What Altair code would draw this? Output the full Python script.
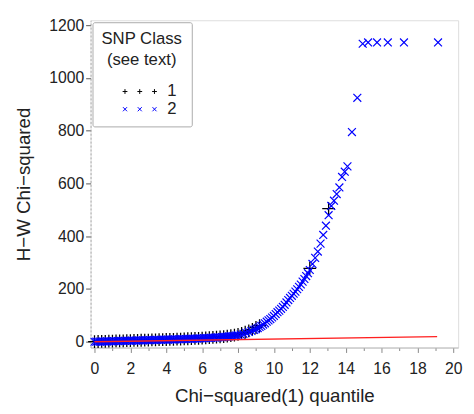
import altair as alt
import pandas as pd

# ---- data ----
blue_x = [0.0, 0.1, 0.2, 0.3, 0.4, 0.5, 0.6, 0.7, 0.8, 0.9,
          1.0, 1.1, 1.2, 1.3, 1.4, 1.5, 1.6, 1.7, 1.8, 1.9,
          2.0, 2.1, 2.2, 2.3, 2.4, 2.5, 2.6, 2.7, 2.8, 2.9,
          3.0, 3.1, 3.2, 3.3, 3.4, 3.5, 3.6, 3.7, 3.8, 3.9,
          4.0, 4.1, 4.2, 4.3, 4.4, 4.5, 4.6, 4.7, 4.8, 4.9,
          5.0, 5.1, 5.2, 5.3, 5.4, 5.5, 5.6, 5.7, 5.8, 5.9,
          6.0, 6.1, 6.2, 6.3, 6.4, 6.5, 6.6, 6.7, 6.8, 6.9,
          7.0, 7.1, 7.2, 7.3, 7.4, 7.5, 7.6, 7.7, 7.8, 7.9,
          8.0, 8.15, 8.3, 8.45, 8.6, 8.75, 8.9, 9.0, 9.1, 9.2,
          9.3, 9.4, 9.5, 9.6, 9.7, 9.8, 9.9, 10.0, 10.1, 10.2,
          10.3, 10.4, 10.5, 10.6, 10.7, 10.8, 10.9, 11.0, 11.1, 11.2,
          11.3, 11.4, 11.5, 11.6, 11.7, 11.8, 11.9, 12.0, 12.15, 12.3,
          12.45, 12.6, 12.75, 12.9, 13.05, 13.2, 13.35, 13.5, 13.65, 13.8,
          13.95, 14.1, 14.35, 14.65, 14.95, 15.25, 15.75, 16.35, 17.25, 19.15]
blue_y = [0.0, 0.2, 0.4, 0.6, 0.8, 1.0, 1.2, 1.4, 1.6, 1.8,
          2.0, 2.2, 2.4, 2.6, 2.8, 3.0, 3.2, 3.4, 3.6, 3.8,
          4.0, 4.2, 4.4, 4.6, 4.8, 5.0, 5.2, 5.4, 5.6, 5.8,
          6.0, 6.2, 6.4, 6.6, 6.8, 7.0, 7.2, 7.4, 7.6, 7.8,
          8.0, 8.2, 8.4, 8.6, 8.8, 9.0, 9.2, 9.4, 9.6, 9.9,
          10.2, 10.4, 10.6, 10.9, 11.2, 11.4, 11.7, 12.0, 12.3, 12.6,
          13.0, 13.4, 13.8, 14.2, 14.6, 15.0, 15.4, 15.8, 16.2, 16.6,
          17.1, 17.6, 18.2, 18.8, 19.5, 20.2, 21.0, 21.8, 22.7, 23.7,
          24.8, 27.0, 30.0, 34.0, 37.0, 41.0, 45.0, 48.0, 52.0, 56.0,
          60.0, 65.0, 70.0, 76.0, 81.0, 86.0, 92.0, 98.0, 105.0, 112.0,
          118.0, 125.0, 132.0, 140.0, 149.0, 158.0, 166.0, 174.0, 182.0, 190.0,
          199.0, 208.0, 217.0, 228.0, 238.0, 249.0, 260.0, 272.0, 295.0, 318.0,
          342.0, 372.0, 405.0, 440.0, 480.0, 515.0, 535.0, 560.0, 585.0, 625.0,
          645.0, 665.0, 795.0, 925.0, 1130.0, 1135.0, 1135.0, 1135.0, 1135.0, 1135.0]

black_x = [0.0, 0.2, 0.4, 0.6, 0.8, 1.0, 1.2, 1.4, 1.6, 1.8,
           2.0, 2.2, 2.4, 2.6, 2.8, 3.0, 3.2, 3.4, 3.6, 3.8,
           4.0, 4.2, 4.4, 4.6, 4.8, 5.0, 5.2, 5.4, 5.6, 5.8,
           6.0, 6.2, 6.4, 6.6, 6.8, 7.0, 7.2, 7.4, 7.6, 7.8,
           8.0, 8.2, 8.4, 8.6, 8.8, 9.0, 9.2, 12.0, 13.05]
black_y = [0.5, 0.9, 1.3, 1.7, 2.1, 2.5, 2.9, 3.3, 3.7, 4.1,
           4.5, 4.9, 5.3, 5.7, 6.1, 6.5, 6.9, 7.3, 7.7, 8.1,
           8.5, 8.9, 9.3, 9.8, 10.3, 10.8, 11.3, 11.9, 12.5, 13.1,
           13.8, 14.6, 15.4, 16.3, 17.3, 18.4, 19.7, 21.2, 23.0, 25.2,
           28.0, 31.5, 36.0, 41.0, 47.0, 54.0, 61.0, 278.0, 505.0]

ref_x = [0.0, 19.1]
ref_y = [0.0, 19.1]

classes = ["1", "2"]
class_colors = ["#000000", "#0000ff"]
x_ticks = [i * 0.5 for i in range(41)]
y_ticks = [0, 200, 400, 600, 800, 1000, 1200]

FONT = "Liberation Sans"
TXT = "#222222"
PLUS = "M-1,0L1,0M0,-1L0,1"
XSYM = "M-1,-1L1,1M-1,1L1,-1"
# three small symbols in a row (legend sample), placed right of the origin
PLUS3 = ("M0.95,0L1.6,0M1.27,-0.33L1.27,0.33"
         "M2.95,0L3.6,0M3.27,-0.33L3.27,0.33"
         "M4.95,0L5.6,0M5.27,-0.33L5.27,0.33")
X3 = ("M1.0,-0.28L1.55,0.28M1.0,0.28L1.55,-0.28"
      "M3.0,-0.28L3.55,0.28M3.0,0.28L3.55,-0.28"
      "M5.0,-0.28L5.55,0.28M5.0,0.28L5.55,-0.28")

df1 = pd.DataFrame({"x": black_x, "y": black_y, "cls": classes[0]})
df2 = pd.DataFrame({"x": blue_x, "y": blue_y, "cls": classes[1]})
dref = pd.DataFrame({"x": ref_x, "y": ref_y})
dleg = pd.DataFrame({"x": [black_x[0], blue_x[0]], "y": [black_y[0], blue_y[0]], "cls": classes})

xscale = alt.Scale(domain=[-0.22, 20.27], nice=False, zero=False)
yscale = alt.Scale(domain=[-22, 1219], nice=False, zero=False)

xaxis = alt.Axis(
    title="Chi\u2212squared(1)  quantile", values=x_ticks, format="d",
    labelExpr="datum.value % 2 == 0 ? datum.label : ''", labelOverlap=False,
    tickSize={"condition": {"test": "datum.value % 2 == 0", "value": 5}, "value": 3},
    grid=False, labelFont=FONT, titleFont=FONT, labelFontSize=16, titleFontSize=19,
    titleFontWeight="normal", labelColor=TXT, titleColor=TXT,
    domainColor="#bbbbbb", tickColor="#888888", labelPadding=8, titlePadding=11,
)
yaxis = alt.Axis(
    title="H\u2212W Chi\u2212squared", values=y_ticks, format="d", labelOverlap=False,
    grid=False, labelFont=FONT, titleFont=FONT, labelFontSize=16, titleFontSize=19,
    titleFontWeight="normal", labelColor=TXT, titleColor=TXT,
    domainColor="#aaaaaa", domainDash=[2, 2], tickColor="#555555", tickSize=5,
    labelPadding=2, titlePadding=16,
)

X = alt.X("x:Q", scale=xscale, axis=xaxis)
Y = alt.Y("y:Q", scale=yscale, axis=yaxis)

black = alt.Chart(df1).mark_point(
    shape=PLUS, filled=False, size=169, strokeWidth=1.3, color="#000000", opacity=1
).encode(x=X, y=Y)

blue = alt.Chart(df2).mark_point(
    shape=XSYM, filled=False, size=64, strokeWidth=1.2, color="#0000ff", opacity=1
).encode(x=X, y=Y)

line = alt.Chart(dref).mark_line(color="#ff2020", strokeWidth=1.3).encode(x=X, y=Y)

legend_layer = alt.Chart(dleg).mark_point(filled=False, opacity=0, strokeWidth=1).encode(
    x=X, y=Y,
    color=alt.Color("cls:N", scale=alt.Scale(domain=classes, range=class_colors),
                    legend=alt.Legend(
                        title=["SNP Class", "(see text)"], orient="top-left",
                        offset=2, padding=9, strokeColor="#aaaaaa", fillColor="white",
                        cornerRadius=2, titleFont=FONT, titleFontSize=17,
                        titleFontWeight="normal", titleColor=TXT,
                        titleAnchor="middle", titleAlign="center", titleLineHeight=22,
                        titlePadding=14, labelFont=FONT, labelFontSize=17,
                        labelColor=TXT, symbolSize=225, symbolStrokeWidth=1,
                        symbolOpacity=1, labelOffset=44, rowPadding=0)),
    shape=alt.Shape("cls:N", scale=alt.Scale(domain=classes, range=[PLUS3, X3]),
                    legend=None),
)

chart = alt.layer(black, blue, line, legend_layer).properties(
    width=374, height=333,
    autosize=alt.AutoSizeParams(type="none"),
    padding={"left": 84, "top": 9, "right": 8, "bottom": 56},
).configure_view(stroke="#cccccc", strokeWidth=1).configure(background="white")

chart.save("out.html", embed_options={"renderer": "svg", "actions": False})
